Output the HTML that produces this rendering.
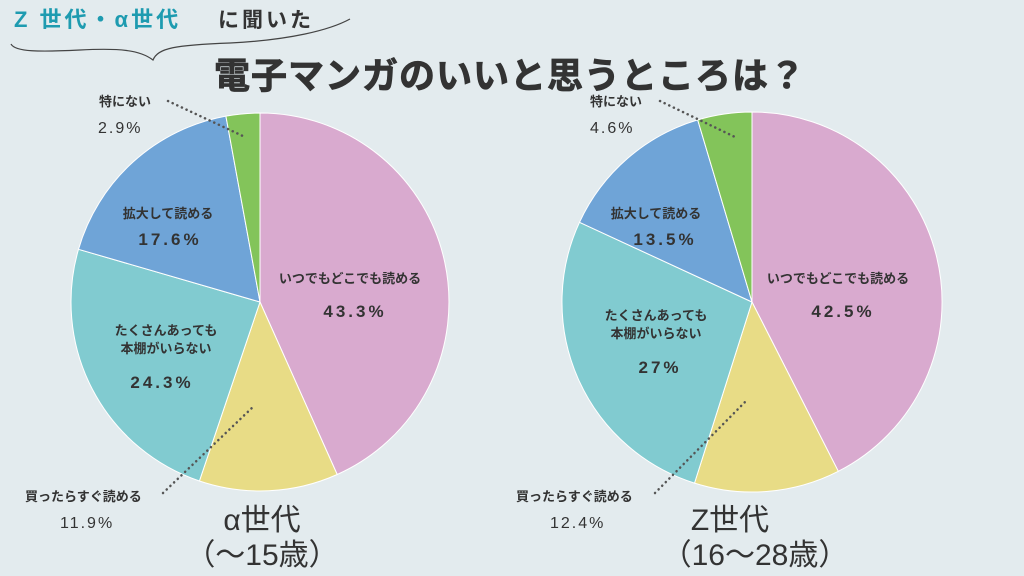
<!DOCTYPE html>
<html><head><meta charset="utf-8"><style>
body{margin:0;background:#e3ebee;}
svg{display:block;font-family:"Liberation Sans","Noto Sans CJK JP",sans-serif;}
</style></head><body>
<svg width="1024" height="576" viewBox="0 0 1024 576">
<rect width="1024" height="576" fill="#e3ebee"/>
<text x="14" y="27" font-size="22" font-weight="bold" fill="#1e9bb0" letter-spacing="3">Z 世代・α世代</text>
<text x="218" y="27" font-size="21" font-weight="bold" fill="#333" letter-spacing="3">に聞いた</text>
<path d="M11 44 C15 52,40 52,80 50 C120 48,140 50,153 60 C158 48,175 45,230 43 C290 40,330 30,350 19" fill="none" stroke="#444" stroke-width="1.2"/>
<text x="510" y="88" font-size="36" font-weight="bold" fill="#333" stroke="#333" stroke-width="0.8" text-anchor="middle" letter-spacing="1">電子マンガのいいと思うところは？</text>

<g stroke="#fff" stroke-width="1">
<path d="M260 302 L260 113 A189 189 0 0 1 337.2 474.5Z" fill="#d9aacf"/>
<path d="M260 302 L337.2 474.5 A189 189 0 0 1 199.4 481Z" fill="#e8dc86"/>
<path d="M260 302 L199.4 481 A189 189 0 0 1 78.5 249.3Z" fill="#81cbd0"/>
<path d="M260 302 L78.5 249.3 A189 189 0 0 1 225.9 116.1Z" fill="#6fa4d7"/>
<path d="M260 302 L225.9 116.1 A189 189 0 0 1 260 113Z" fill="#83c45a"/>
<path d="M752 302 L752 112 A190 190 0 0 1 838.3 471.3Z" fill="#d9aacf"/>
<path d="M752 302 L838.3 471.3 A190 190 0 0 1 694.5 483.1Z" fill="#e8dc86"/>
<path d="M752 302 L694.5 483.1 A190 190 0 0 1 579.5 222.3Z" fill="#81cbd0"/>
<path d="M752 302 L579.5 222.3 A190 190 0 0 1 697.7 119.9Z" fill="#6fa4d7"/>
<path d="M752 302 L697.7 119.9 A190 190 0 0 1 752 112Z" fill="#83c45a"/>
</g>

<g fill="#333" font-weight="bold" text-anchor="middle">
<g font-size="13">
<text x="350" y="283">いつでもどこでも読める</text>
<text x="168" y="218">拡大して読める</text>
<text x="166" y="335">たくさんあっても</text>
<text x="166" y="353">本棚がいらない</text>
<text x="838" y="283">いつでもどこでも読める</text>
<text x="656" y="218">拡大して読める</text>
<text x="656" y="320">たくさんあっても</text>
<text x="656" y="338">本棚がいらない</text>
</g>
<g font-size="17" letter-spacing="3">
<text x="355" y="317">43.3%</text>
<text x="170" y="245">17.6%</text>
<text x="162" y="388">24.3%</text>
<text x="843" y="317">42.5%</text>
<text x="665" y="245">13.5%</text>
<text x="660" y="373">27%</text>
</g>
<g font-size="30" font-weight="normal">
<text x="262" y="530">α世代</text>
<text x="730" y="530">Z世代</text>
<text x="262" y="565">（～15歳）</text>
<text x="755" y="565">（16～28歳）</text>
</g>
</g>
<g fill="#333" font-size="13" font-weight="bold">
<text x="99" y="106">特にない</text>
<text x="590" y="106">特にない</text>
<text x="25" y="501">買ったらすぐ読める</text>
<text x="516" y="501">買ったらすぐ読める</text>
</g>
<g fill="#333" font-size="16" letter-spacing="2">
<text x="98" y="133">2.9%</text>
<text x="590" y="133">4.6%</text>
<text x="60" y="528">11.9%</text>
<text x="550" y="528">12.4%</text>
</g>
<g stroke="#555" stroke-width="2.5" stroke-dasharray="0.1 5" stroke-linecap="round" fill="none">
<line x1="168" y1="101" x2="245" y2="137"/>
<line x1="660" y1="101" x2="735" y2="137"/>
<line x1="163" y1="493" x2="255" y2="405"/>
<line x1="655" y1="493" x2="745" y2="402"/>
</g>
</svg>
</body></html>
